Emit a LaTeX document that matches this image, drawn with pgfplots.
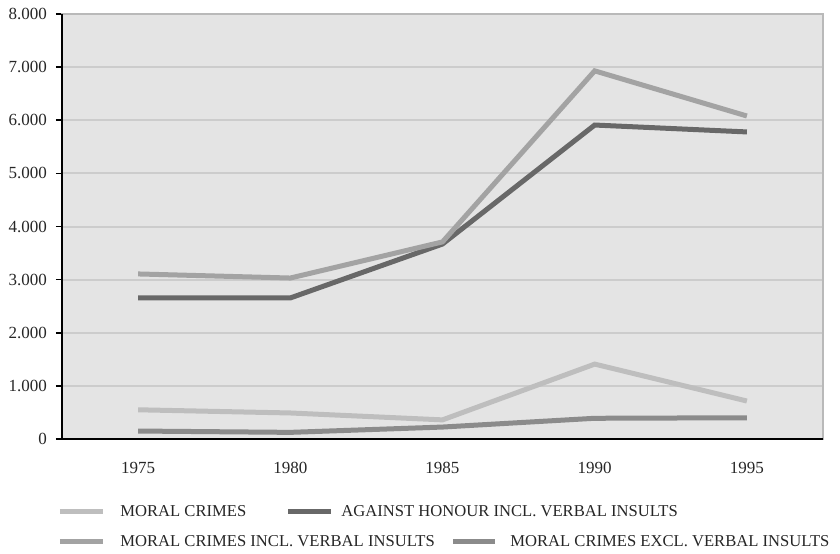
\documentclass[border=0pt]{standalone}
\usepackage{fontspec}
\setmainfont{Liberation Serif}
\usepackage{pgfplots}
\pgfplotsset{compat=1.18}

\definecolor{bgfill}{HTML}{E4E4E4}
\definecolor{gridc}{HTML}{CCCCCC}
\definecolor{moral}{HTML}{BEBEBE}
\definecolor{honour}{HTML}{686868}
\definecolor{incl}{HTML}{A3A3A3}
\definecolor{excl}{HTML}{8B8B8B}

\begin{document}
\begin{tikzpicture}
\useasboundingbox (-31pt,-57pt) rectangle (389pt,219.5pt);
\begin{axis}[
    scale only axis,
    width=380.5pt,
    height=212.5pt,
    xmin=-0.5, xmax=4.5,
    ymin=0, ymax=8000,
    axis background/.style={fill=bgfill},
    axis line style={draw=gray!55, line width=0.8pt},
    clip=false,
    tick align=outside,
    xtick pos=bottom, ytick pos=left,
    xtick={0,1,2,3,4},
    xticklabels={1975,1980,1985,1990,1995},
    major x tick style={draw=none},
    extra x ticks={-0.5,0.5,1.5,2.5,3.5,4.5},
    extra x tick labels={},
    extra x tick style={major tick length=3pt, tick style={black, line width=0.8pt}},
    ytick={0,1000,...,8000},
    yticklabels={0,1.000,2.000,3.000,4.000,5.000,6.000,7.000,8.000},
    major tick length=3pt,
    y tick style={black, line width=0.8pt},
    ymajorgrids,
    grid style={gridc, line width=1pt},
    tick label style={font=\fontsize{8.5}{10}\selectfont, text=black!85},
    xticklabel style={yshift=-5pt},
    yticklabel style={xshift=-1pt},
    every axis plot/.append style={line width=2.5pt},
]
% MORAL CRIMES
\addplot[moral] coordinates {(0,550) (1,490) (2,360) (3,1410) (4,715)};
% AGAINST HONOUR INCL. VERBAL INSULTS
\addplot[honour] coordinates {(0,2655) (1,2655) (2,3670) (3,5910) (4,5780)};
% MORAL CRIMES INCL. VERBAL INSULTS
\addplot[incl] coordinates {(0,3107) (1,3030) (2,3710) (3,6930) (4,6080)};
% MORAL CRIMES EXCL. VERBAL INSULTS
\addplot[excl] coordinates {(0,150) (1,125) (2,225) (3,390) (4,400)};

\draw[black, line width=1pt] (rel axis cs:0,1) -- (rel axis cs:0,0) -- (rel axis cs:1,0);
\end{axis}

% legend, laid out like the source (rows do not share columns)
\begin{scope}[every node/.style={anchor=west, inner sep=0pt, font=\fontsize{8.3}{10}\selectfont, text=black!85}]
\draw[moral, line width=2.5pt] (-1pt,-36pt) -- (20.5pt,-36pt);
\node at (29pt,-36pt) {MORAL CRIMES};
\draw[honour, line width=2.5pt] (113pt,-36pt) -- (134.5pt,-36pt);
\node at (139.5pt,-36pt) {AGAINST HONOUR INCL. VERBAL INSULTS};
\draw[incl, line width=2.5pt] (-1pt,-51pt) -- (20.5pt,-51pt);
\node at (29pt,-51pt) {MORAL CRIMES INCL. VERBAL INSULTS};
\draw[excl, line width=2.5pt] (195.5pt,-51pt) -- (216.5pt,-51pt);
\node at (224pt,-51pt) {MORAL CRIMES EXCL. VERBAL INSULTS};
\end{scope}
\end{tikzpicture}
\end{document}
